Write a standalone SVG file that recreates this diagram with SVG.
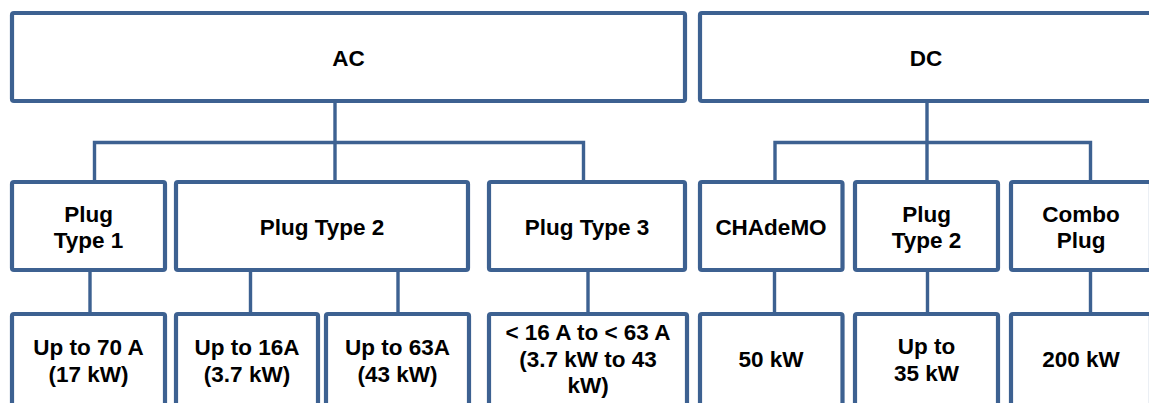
<svg xmlns="http://www.w3.org/2000/svg" width="1149" height="403" viewBox="0 0 1149 403">
<style>
.box{fill:#fff;stroke:#3D6191;stroke-width:4.2}
.con{fill:none;stroke:#3D6191;stroke-width:3.4}
text{font-family:"Liberation Sans",Arial,sans-serif;font-weight:bold;font-size:22.5px;fill:#000;text-anchor:middle}
</style>
<rect width="1149" height="403" fill="#fff"/>
<g id="connectors">
<path class="con" d="M335,101 V182 M94.5,182 V142.5 H583.5 V182"/>
<path class="con" d="M927,101 V182 M775,182 V142.5 H1090.5 V182"/>
<path class="con" d="M90,270 V314 M250.5,270 V314 M398,270 V314 M588,270 V314 M774.5,270 V314 M927.5,270 V314 M1090.5,270 V314"/>
</g>
<g id="ac"><rect class="box" x="12" y="13" width="673" height="88" rx="2"/><text x="348.5" y="66">AC</text></g>
<g id="dc"><rect class="box" x="700" y="13" width="452" height="88" rx="2"/><text x="926" y="66">DC</text></g>
<g id="plug-type-1"><rect class="box" x="12" y="182" width="153" height="88" rx="2"/><text x="88.5" y="221.7">Plug</text><text x="88.5" y="248.3">Type 1</text></g>
<g id="plug-type-2-ac"><rect class="box" x="176" y="182" width="292" height="88" rx="2"/><text x="322" y="235">Plug Type 2</text></g>
<g id="plug-type-3"><rect class="box" x="489" y="182" width="196" height="88" rx="2"/><text x="587" y="235">Plug Type 3</text></g>
<g id="chademo"><rect class="box" x="700" y="182" width="142.5" height="88" rx="2"/><text x="771" y="235">CHAdeMO</text></g>
<g id="plug-type-2-dc"><rect class="box" x="855" y="182" width="143" height="88" rx="2"/><text x="926.5" y="221.7">Plug</text><text x="926.5" y="248.3">Type 2</text></g>
<g id="combo-plug"><rect class="box" x="1011" y="182" width="140" height="88" rx="2"/><text x="1081" y="221.7">Combo</text><text x="1081" y="248">Plug</text></g>
<g id="up-to-70a"><rect class="box" x="12" y="314" width="153" height="110" rx="2"/><text x="88.5" y="355">Up to 70 A</text><text x="88.5" y="381.5">(17 kW)</text></g>
<g id="up-to-16a"><rect class="box" x="176" y="314" width="142" height="110" rx="2"/><text x="247" y="355">Up to 16A</text><text x="247" y="381.5">(3.7 kW)</text></g>
<g id="up-to-63a"><rect class="box" x="326" y="314" width="143" height="110" rx="2"/><text x="397.5" y="355">Up to 63A</text><text x="397.5" y="381.5">(43 kW)</text></g>
<g id="range-16-63"><rect class="box" x="489" y="314" width="198" height="110" rx="2"/><text x="588" y="340">&lt; 16 A to &lt; 63 A</text><text x="588" y="366.5">(3.7 kW to 43</text><text x="588" y="393">kW)</text></g>
<g id="kw-50"><rect class="box" x="700" y="314" width="142.5" height="110" rx="2"/><text x="771" y="366.7">50 kW</text></g>
<g id="up-to-35kw"><rect class="box" x="855" y="314" width="143" height="110" rx="2"/><text x="926.5" y="354">Up to</text><text x="926.5" y="380.5">35 kW</text></g>
<g id="kw-200"><rect class="box" x="1011" y="314" width="140" height="110" rx="2"/><text x="1081" y="366.7">200 kW</text></g>
</svg>
